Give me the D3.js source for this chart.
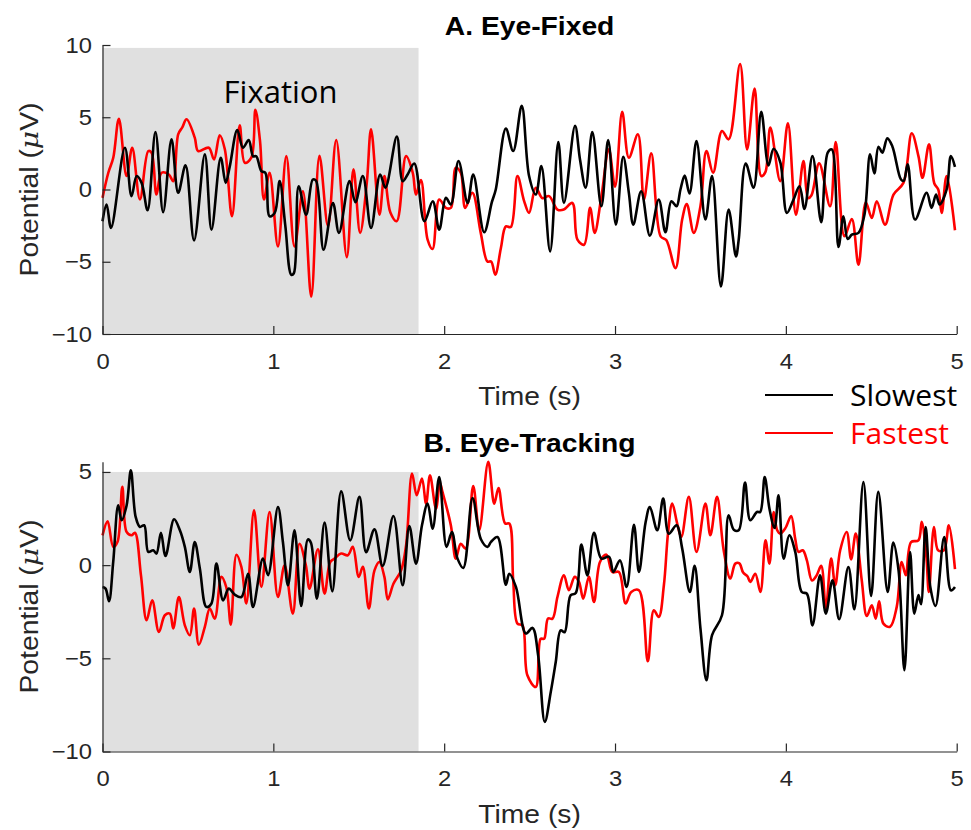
<!DOCTYPE html>
<html>
<head>
<meta charset="utf-8">
<script src="https://cdn.jsdelivr.net/npm/d3@7"></script>
<style>
  html, body { margin: 0; padding: 0; background: #fff; }
  svg { display: block; }
</style>
</head>
<body>
<div id="chart"></div>
<script>
// Slowest vs fastest responders, potential traces for the two conditions.
// Each series is a list of [time (s), potential (uV)].

var xTicks = [0, 1, 2, 3, 4, 5];
var yTicksA = [-10, -5, 0, 5, 10];
var yTicksB = [-10, -5, 0, 5];
var fixationEnd = 1.85;
var seriesNames = ['Slowest', 'Fastest'];

var eyeFixedSlowest = [
  [0,-2.2],[0.024,-1.04],[0.05,-2.66],[0.131,2.89],[0.17,-0.46],[0.2,0.93],[0.229,0.46],[0.264,-1.44],
  [0.31,3.98],[0.355,-1.57],[0.404,3.47],[0.443,-0.23],[0.486,1.67],[0.536,-3.52],[0.599,2.43],[0.638,-2.78],
  [0.692,2.2],[0.721,0.46],[0.745,1.6],[0.789,4.12],[0.822,2.89],[0.856,3.43],[0.881,2.31],[0.9,2.3],
  [0.93,1.27],[0.953,1.16],[0.978,-1.85],[1.008,-1.62],[1.037,0.58],[1.07,-2.5],[1.105,-5.9],[1.12,-5.8],
  [1.148,0.23],[1.192,-1.74],[1.231,0.69],[1.25,0.6],[1.294,-4.17],[1.349,-0.93],[1.384,-3.0],[1.446,0.58],
  [1.48,-0.88],[1.524,0.93],[1.572,-2.66],[1.625,1.04],[1.656,0.12],[1.723,3.66],[1.757,0.58],[1.786,1.04],
  [1.825,1.8],[1.884,-2.2],[1.933,-0.81],[1.971,-2.78],[2.01,-0.58],[2.039,-1.04],[2.084,1.97],[2.137,-0.93],
  [2.17,1.04],[2.234,-2.96],[2.279,-0.88],[2.302,0],[2.361,4.21],[2.404,2.66],[2.454,5.79],[2.497,0.93],
  [2.536,-0.35],[2.569,1.62],[2.62,-4.28],[2.668,3.29],[2.701,-0.93],[2.766,4.4],[2.795,2.08],[2.828,0.12],
  [2.867,3.98],[2.92,-1.16],[2.96,3.43],[3.005,-2.43],[3.048,2.27],[3.081,-0.23],[3.107,-2.43],[3.153,-0.12],
  [3.204,-3.19],[3.256,-0.69],[3.295,-2.96],[3.33,-0.81],[3.36,-1.16],[3.383,0],[3.408,0.97],[3.436,-0.28],
  [3.477,3.36],[3.529,-2.08],[3.568,0.93],[3.62,-6.71],[3.665,-1.39],[3.708,-4.63],[3.724,-3.47],[3.765,1.8],
  [3.811,0.12],[3.856,5.37],[3.898,1.67],[3.928,2.82],[3.967,1.9],[4.006,-1.62],[4.045,-0.69],[4.08,0.23],
  [4.109,-1.34],[4.156,2.31],[4.207,-2.27],[4.245,2.55],[4.269,2.78],[4.308,-3.98],[4.337,-1.85],[4.362,-3.43],
  [4.386,-3.13],[4.425,-3.0],[4.46,-1.74],[4.493,2.43],[4.518,1.11],[4.542,2.96],[4.565,2.55],[4.594,3.54],
  [4.623,3.0],[4.674,0.69],[4.69,0.6],[4.713,1.74],[4.756,-2.08],[4.824,-0.23],[4.853,-1.27],[4.879,-0.35],
  [4.9,-1.04],[4.941,0],[4.966,2.31],[4.99,1.57]
];

var eyeFixedFastest = [
  [0,-0.58],[0.034,1.16],[0.063,2.2],[0.096,4.9],[0.141,0.93],[0.174,2.89],[0.219,-0.69],[0.268,2.66],
  [0.287,2.55],[0.316,-0.35],[0.346,1.16],[0.388,1.04],[0.414,0.58],[0.443,3.82],[0.467,4.3],[0.492,4.86],
  [0.54,3.59],[0.56,2.66],[0.622,2.89],[0.653,2.08],[0.686,3.75],[0.716,2.78],[0.758,-1.85],[0.803,4.44],
  [0.833,1.85],[0.871,2.2],[0.895,5.51],[0.922,3.36],[0.945,-0.69],[0.978,1.16],[1.027,-3.94],[1.076,2.31],
  [1.124,-3.94],[1.173,-0.12],[1.222,-7.41],[1.27,2.34],[1.32,-2.55],[1.368,3.43],[1.43,-4.68],[1.469,1.39],
  [1.508,-3.0],[1.547,0.46],[1.572,4.17],[1.621,-1.74],[1.65,0.93],[1.685,-1.6],[1.722,-2.2],[1.777,2.31],
  [1.816,1.16],[1.835,-0.35],[1.864,0.65],[1.903,-3.47],[1.932,-4.12],[1.971,-0.69],[2.01,-1.27],[2.039,-1.27],
  [2.068,1.5],[2.097,1.16],[2.123,-1.27],[2.165,-0.23],[2.214,-3.0],[2.253,-4.98],[2.275,-4.98],[2.299,-5.9],
  [2.332,-4.05],[2.361,-2.55],[2.39,-2.6],[2.429,0.93],[2.468,-0.8],[2.497,-1.62],[2.536,0.12],[2.575,-0.6],
  [2.614,-0.46],[2.663,-1.39],[2.7,-1.39],[2.75,-0.93],[2.78,-3.47],[2.819,-3.82],[2.854,-1.27],[2.881,-3.0],
  [2.92,-0.5],[2.964,2.78],[3.0,0.2],[3.042,5.37],[3.081,2.2],[3.134,3.82],[3.169,-0.69],[3.212,2.5],
  [3.267,-3.24],[3.3,-3.5],[3.354,-5.44],[3.393,-2.08],[3.42,-1.0],[3.461,-3.0],[3.5,-1.16],[3.535,2.66],
  [3.574,1.16],[3.626,4.05],[3.665,3.47],[3.732,8.68],[3.773,2.78],[3.817,6.99],[3.856,0.93],[3.88,1.2],
  [3.909,4.28],[3.967,0.58],[4.012,4.58],[4.059,-1.74],[4.103,1.97],[4.13,-0.6],[4.15,-0.4],[4.195,1.81],
  [4.259,-1.16],[4.292,3.29],[4.343,-3.24],[4.386,-2.04],[4.425,-5.21],[4.468,-0.88],[4.503,-1.97],[4.532,-0.81],
  [4.581,-2.43],[4.63,-0.35],[4.688,0.46],[4.737,3.89],[4.776,2.31],[4.8,0.81],[4.838,3.13],[4.869,0.42],
  [4.892,0],[4.912,-1.62],[4.941,0.93],[4.99,-2.82]
];

var eyeTrackingSlowest = [
  [0,-1.17],[0.018,-1.26],[0.038,-1.94],[0.063,0.2],[0.092,3.21],[0.112,2.41],[0.141,3.2],[0.166,5.09],
  [0.194,2.59],[0.219,2.05],[0.244,2.14],[0.268,0.71],[0.297,0.8],[0.316,0.62],[0.342,1.74],[0.369,0.49],
  [0.419,2.46],[0.453,1.87],[0.482,0.98],[0.511,-0.37],[0.54,1.24],[0.57,-0.19],[0.608,-2.24],[0.637,-2.07],
  [0.667,0.08],[0.706,-1.89],[0.739,-1.26],[0.774,-1.58],[0.813,-1.71],[0.852,-0.46],[0.881,-2.24],[0.939,0.35],
  [0.969,-0.54],[1.027,3.12],[1.056,1.24],[1.086,-1.08],[1.124,1.87],[1.163,-2.19],[1.202,1.38],[1.22,1.2],
  [1.255,-1.8],[1.3,2.28],[1.345,-1.4],[1.397,3.96],[1.45,1.33],[1.504,3.66],[1.543,0.7],[1.592,1.92],
  [1.64,-0.04],[1.703,2.64],[1.757,-1.08],[1.796,2.1],[1.835,0.08],[1.87,2.14],[1.903,3.3],[1.933,1.96],
  [1.971,4.73],[2.014,0.98],[2.045,1.78],[2.078,0.35],[2.112,-0.15],[2.166,3.6],[2.215,1.39],[2.254,0.98],
  [2.274,1.25],[2.312,1.51],[2.361,-1.05],[2.381,-0.46],[2.42,-1.17],[2.478,-3.67],[2.517,-3.37],[2.55,-4.84],
  [2.589,-8.41],[2.624,-6.8],[2.653,-5.2],[2.682,-3.5],[2.705,-3.6],[2.74,-1.62],[2.77,-1.5],[2.803,1.1],
  [2.838,-0.55],[2.877,1.74],[2.92,0.35],[2.965,0.45],[2.99,-0.37],[3.029,0.26],[3.068,-1.17],[3.111,2.17],
  [3.14,-0.37],[3.179,2.3],[3.204,3.12],[3.247,1.87],[3.282,3.57],[3.315,1.69],[3.36,2.14],[3.393,0.9],
  [3.438,-1.44],[3.466,-0.04],[3.5,-3.4],[3.535,-6.18],[3.568,-3.76],[3.626,-2.69],[3.665,2.67],[3.695,1.9],
  [3.724,1.87],[3.761,4.43],[3.792,2.41],[3.831,2.85],[3.85,2.85],[3.876,4.73],[3.904,3.03],[3.934,1.99],
  [3.957,3.75],[3.987,0.35],[4.02,1.6],[4.055,0.71],[4.093,-1.44],[4.123,-1.53],[4.156,-3.23],[4.2,-0.54],
  [4.234,-2.6],[4.273,-0.81],[4.312,-2.9],[4.366,-0.1],[4.401,-2.37],[4.454,4.46],[4.499,-1.65],[4.541,3.93],
  [4.596,-1.44],[4.629,1.21],[4.66,-0.3],[4.694,-5.64],[4.727,0.7],[4.752,-2.6],[4.776,-1.6],[4.791,-2.1],
  [4.818,2.05],[4.846,-1.2],[4.876,-2.19],[4.927,1.51],[4.966,-1.35],[4.99,-1.17]
];

var eyeTrackingFastest = [
  [0,1.6],[0.03,2.35],[0.063,0.98],[0.088,1.25],[0.116,4.2],[0.141,1.78],[0.17,1.6],[0.19,1.74],
  [0.225,-0.54],[0.258,-2.96],[0.291,-1.89],[0.33,-3.59],[0.365,-2.69],[0.394,-2.6],[0.414,-3.4],[0.447,-1.71],
  [0.482,-3.23],[0.511,-3.76],[0.536,-2.33],[0.564,-4.27],[0.599,-3.31],[0.628,-2.33],[0.657,-2.87],[0.696,-0.63],
  [0.725,-1.2],[0.751,-3.19],[0.784,0.56],[0.813,-0.1],[0.842,-2.06],[0.887,2.94],[0.93,-1.17],[0.978,2.85],
  [1.027,-1.71],[1.066,-0.01],[1.114,-2.6],[1.153,1.15],[1.19,0.0],[1.212,-1.26],[1.261,0.85],[1.3,-1.53],
  [1.333,0.17],[1.358,0.35],[1.397,0.62],[1.436,0.53],[1.465,0.98],[1.5,-0.63],[1.524,-0.09],[1.559,-2.33],
  [1.592,-0.28],[1.621,0.17],[1.65,-0.63],[1.67,-1.84],[1.703,-1.0],[1.748,-0.28],[1.777,1.06],[1.812,4.91],
  [1.839,3.75],[1.87,4.64],[1.894,3.3],[1.917,4.82],[1.952,3.03],[1.975,4.4],[1.99,3.93],[2.039,2.14],
  [2.068,0.35],[2.097,1.15],[2.126,0.88],[2.17,4.25],[2.205,1.87],[2.258,5.54],[2.293,3.3],[2.318,4.14],
  [2.357,2.23],[2.381,2.23],[2.404,-0.82],[2.429,-3.14],[2.458,-3.23],[2.487,-5.91],[2.536,-6.54],[2.565,-3.95],
  [2.585,-3.95],[2.608,-2.87],[2.634,-2.87],[2.663,-1.71],[2.701,-0.54],[2.73,-1.35],[2.764,-0.63],[2.789,-0.9],
  [2.814,-1.8],[2.847,-0.63],[2.877,-1.97],[2.912,0.17],[2.95,0.56],[2.984,-0.37],[3.023,-0.37],[3.062,-2.06],
  [3.095,-1.44],[3.14,-1.35],[3.192,-5.16],[3.227,-2.42],[3.256,-2.78],[3.286,-1.08],[3.31,1.69],[3.335,3.3],
  [3.364,2.23],[3.388,1.51],[3.432,3.66],[3.477,0.71],[3.529,3.3],[3.558,1.6],[3.597,3.66],[3.636,0.8],
  [3.675,-0.72],[3.704,0.08],[3.728,0.1],[3.75,-0.4],[3.775,-0.6],[3.792,-0.9],[3.821,-0.46],[3.851,-1.44],
  [3.881,1.33],[3.904,0.08],[3.929,2.85],[3.948,1.9],[3.967,1.69],[3.998,2.0],[4.031,2.64],[4.055,1.4],
  [4.074,0.71],[4.099,0.8],[4.123,0.26],[4.153,-0.82],[4.18,-0.55],[4.207,-0.04],[4.234,-2.33],[4.265,0.35],
  [4.289,-1.08],[4.318,0.8],[4.356,1.78],[4.382,0.31],[4.409,1.69],[4.444,-0.8],[4.474,-2.73],[4.503,-2.16],
  [4.526,-2.87],[4.546,-1.94],[4.571,-3.14],[4.61,-3.31],[4.649,-2.24],[4.678,0.17],[4.702,-0.54],[4.733,1.24],
  [4.776,1.33],[4.795,2.32],[4.822,0.5],[4.837,-1.44],[4.867,2.05],[4.891,0.8],[4.925,0.8],[4.954,2.14],
  [4.99,-0.22]
];

var width = 971;
var height = 830;
var axisColor = '#262626';
var tickFont = "'Liberation Sans', Arial, sans-serif";
var noteFont = "'Open Sans', 'Noto Sans', sans-serif";
var textStretch = 1.13; // the reference lettering is a bit wider than Arial

var svg = d3.select('#chart')
  .append('svg')
  .attr('width', width)
  .attr('height', height);

var x = d3.scaleLinear().domain([0, 5]).range([102.5, 956.7]);

// widen glyphs along the reading direction
function stretch(sel, k) {
  sel.each(function () {
    var len = this.getComputedTextLength();
    d3.select(this).attr('textLength', len * k).attr('lengthAdjust', 'spacingAndGlyphs');
  });
}

function drawPanel(opts) {
  var y = d3.scaleLinear().domain(opts.yDomain).range([opts.bottom, opts.top]);
  var g = svg.append('g');

  // Fixation period shading
  g.append('rect')
    .attr('x', x(0))
    .attr('y', y(opts.shadeTop))
    .attr('width', x(fixationEnd) - x(0))
    .attr('height', y(opts.yDomain[0]) - y(opts.shadeTop))
    .attr('fill', '#e0e0e0');

  var line = d3.line()
    .x(function (d) { return x(d[0]); })
    .y(function (d) { return y(d[1]); })
    .curve(d3.curveCatmullRom.alpha(0.5));

  g.append('path')
    .datum(opts.fastest)
    .attr('d', line)
    .attr('fill', 'none')
    .attr('stroke', '#ff0000')
    .attr('stroke-width', 2.6)
    .attr('stroke-linejoin', 'round');

  g.append('path')
    .datum(opts.slowest)
    .attr('d', line)
    .attr('fill', 'none')
    .attr('stroke', '#000')
    .attr('stroke-width', 2.6)
    .attr('stroke-linejoin', 'round');

  // Axes, ticks pointing inward like MATLAB
  var xAxis = g.append('g')
    .attr('transform', 'translate(0,' + opts.bottom + ')')
    .call(d3.axisBottom(x).tickValues(xTicks).tickSizeInner(-8).tickSizeOuter(0).tickPadding(19)
      .tickFormat(d3.format('d')));
  var yAxis = g.append('g')
    .attr('transform', 'translate(' + x(0) + ',0)')
    .call(d3.axisLeft(y).tickValues(opts.yTicks).tickSizeInner(-8).tickSizeOuter(0).tickPadding(10.5)
      .tickFormat(d3.format('d')));

  [xAxis, yAxis].forEach(function (a) {
    a.select('.domain').attr('stroke', axisColor).attr('stroke-width', 1.2);
    a.selectAll('.tick line').attr('stroke', axisColor).attr('stroke-width', 1.2);
    a.selectAll('.tick text')
      .attr('fill', axisColor)
      .style('font-family', tickFont)
      .style('font-size', '22px')
      .call(stretch, 1.08);
  });

  // Titles and axis labels
  svg.append('text')
    .attr('x', (x(0) + x(5)) / 2)
    .attr('y', opts.titleY)
    .attr('text-anchor', 'middle')
    .style('font-family', tickFont)
    .style('font-weight', 'bold')
    .style('font-size', '25px')
    .attr('fill', '#000')
    .text(opts.title)
    .call(stretch, textStretch);

  svg.append('text')
    .attr('x', (x(0) + x(5)) / 2)
    .attr('y', opts.bottom + 71)
    .attr('text-anchor', 'middle')
    .style('font-family', tickFont)
    .style('font-size', '25px')
    .attr('fill', axisColor)
    .text('Time (s)')
    .call(stretch, textStretch);

  var yl = svg.append('text')
    .attr('transform', 'translate(38,' + ((opts.top + opts.bottom) / 2) + ') rotate(-90)')
    .attr('text-anchor', 'middle')
    .style('font-family', tickFont)
    .style('font-size', '25px')
    .attr('fill', axisColor);
  yl.append('tspan').text('Potential (');
  yl.append('tspan').style('font-style', 'italic').style('font-family', "'DejaVu Serif', serif").text('\u03bc');
  yl.append('tspan').text('V)');
  yl.call(stretch, textStretch);

  return y;
}

drawPanel({
  yDomain: [-10, 10], top: 45, bottom: 334, yTicks: yTicksA, shadeTop: 9.8,
  slowest: eyeFixedSlowest, fastest: eyeFixedFastest,
  title: 'A. Eye-Fixed', titleY: 35
});

drawPanel({
  yDomain: [-10, 5.55], top: 461.7, bottom: 751.5, yTicks: yTicksB, shadeTop: 5,
  slowest: eyeTrackingSlowest, fastest: eyeTrackingFastest,
  title: 'B. Eye-Tracking', titleY: 452
});

svg.append('text')
  .attr('x', x(fixationEnd / 2) + 20)
  .attr('y', 103)
  .attr('text-anchor', 'middle')
  .style('font-family', noteFont)
  .style('font-size', '31px')
  .attr('fill', '#000')
  .text('Fixation');

// Legend
var legendColors = ['#000', '#ff0000'];
var legend = svg.append('g').attr('transform', 'translate(765,395)');
seriesNames.forEach(function (name, i) {
  var row = legend.append('g').attr('transform', 'translate(0,' + (i * 38) + ')');
  row.append('line')
    .attr('x1', 0).attr('x2', 68)
    .attr('stroke', legendColors[i])
    .attr('stroke-width', 2.2);
  row.append('text')
    .attr('x', 85)
    .attr('y', 11)
    .style('font-family', noteFont)
    .style('font-size', '30px')
    .attr('fill', legendColors[i])
    .text(name);
});
</script>
</body>
</html>
